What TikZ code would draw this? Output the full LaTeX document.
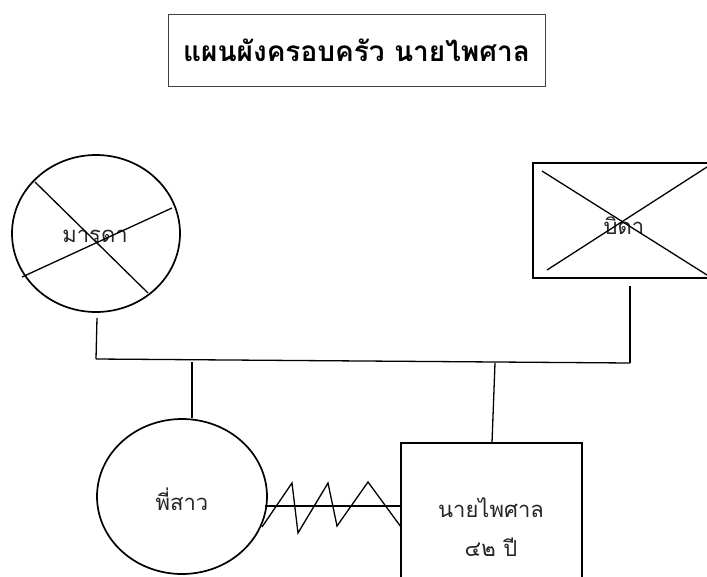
\documentclass[tikz,border=0pt]{standalone}
\usepackage{fontspec}
\newfontfamily\thaifont[Script=Thai]{Loma}
\usetikzlibrary{shapes.geometric}
\begin{document}
\begin{tikzpicture}[x=1pt,y=-1pt,
  person/.style={draw=black,line width=1.7pt,inner sep=0pt},
  fem/.style={person,ellipse,minimum width=170pt,minimum height=156pt},
  male/.style={person,rectangle},
  lbl/.style={font=\thaifont\fontsize{22}{27}\selectfont,text=black!85,inner sep=0pt},
  link/.style={line width=1.3pt,black},
]
\useasboundingbox (0,0) rectangle (707,576);
\clip (0,0) rectangle (707,576);
\fill[white] (0,0) rectangle (707,576);
% title
\node[draw=black!75,line width=1pt,minimum width=377pt,minimum height=72pt,inner sep=0pt,
      font=\thaifont\bfseries\fontsize{28}{33}\selectfont] (title) at (356.5,50) {แผนผังครอบครัว นายไพศาล};
% mother
\node[fem,minimum width=168pt,minimum height=157pt] (mother) at (96,233.5) {};
\node[lbl] (mlbl) at (95,236) {มารดา};
\coordinate (m1) at (35,182); \coordinate (m2) at (148,293);
\coordinate (m3) at (22,277); \coordinate (m4) at (172,208);
\draw[link] (m1) -- (m2);
\draw[link] (m3) -- (m4);
% father
\node[male,minimum width=187pt,minimum height=115pt] (father) at (626.5,220.5) {};
\node[lbl] (flbl) at (624,226) {บิดา};
\coordinate (f1) at (542,171); \coordinate (f2) at (707,275);
\coordinate (f3) at (547,270); \coordinate (f4) at (707,167);
\draw[link] (f1) -- (f2);
\draw[link] (f3) -- (f4);
% sister
\node[fem,minimum width=170pt,minimum height=155pt] (sister) at (182,496.5) {};
\node[lbl] (slbl) at (182,499) {พี่สาว};
% self
\node[male,minimum width=181pt,minimum height=157pt] (self) at (491.5,521.5) {};
\node[lbl,align=center] (selflbl) at (491,527) {นายไพศาล\\[12pt]๔๒ ปี};
% family lines
\coordinate (mdown) at (97,318);
\coordinate (hl) at (96,359);
\coordinate (hr) at (630,363);
\coordinate (fdown) at (630,286);
\coordinate (sup) at (192,362);
\coordinate (selfup) at (495,363);
\draw[link] (mdown) -- (hl);
\draw[link] (hl) -- (hr);
\draw[link] (fdown) -- (hr);
\draw[link] (sup) -- (sister.north -| sup);
\draw[link] (selfup) -- (492,443);
% relation: straight line plus zigzag (conflict)
\coordinate (r1) at (265,506); \coordinate (r2) at (400,506);
\draw[link] (r1) -- (r2);
\coordinate (z0) at (262,527);
\coordinate (z1) at (292,483);
\coordinate (z2) at (298,533);
\coordinate (z3) at (328,483);
\coordinate (z4) at (337,526);
\coordinate (z5) at (368,482);
\coordinate (z6) at (401,527);
\draw[link,line join=miter] (z0) -- (z1) -- (z2) -- (z3) -- (z4) -- (z5) -- (z6);
\end{tikzpicture}
\end{document}
